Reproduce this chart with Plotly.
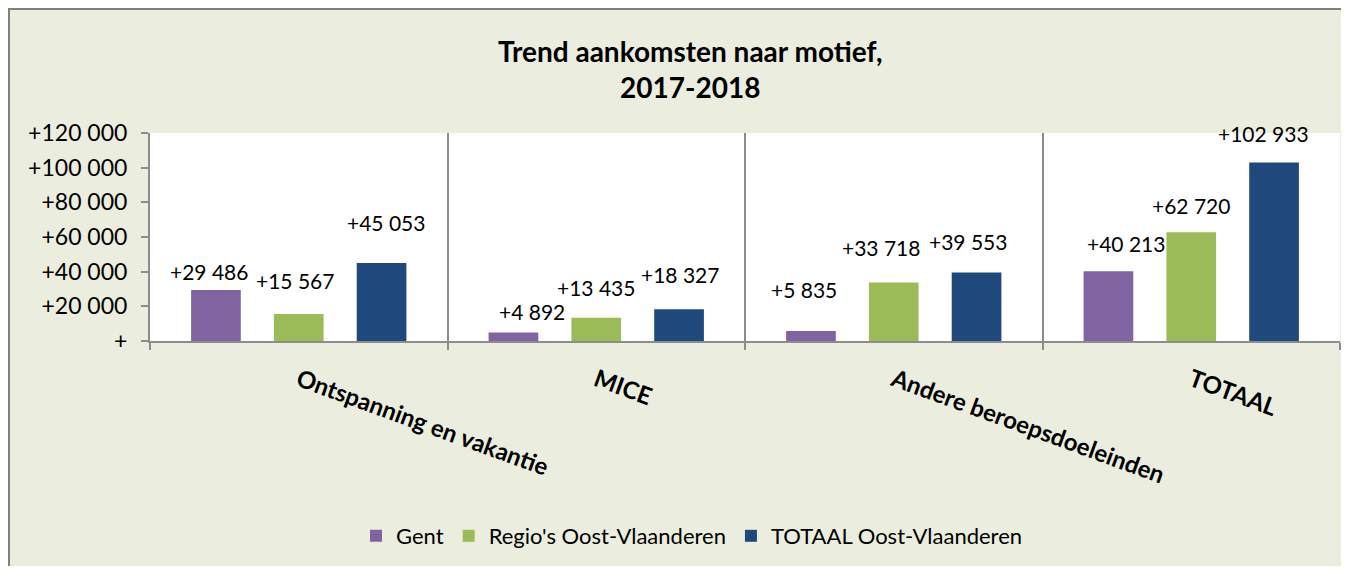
import plotly.graph_objects as go

categories = ["Ontspanning en vakantie", "MICE", "Andere beroepsdoeleinden", "TOTAAL"]
series_names = ["Gent", "Regio's Oost-Vlaanderen", "TOTAAL Oost-Vlaanderen"]
gent = [29486, 4892, 5835, 40213]
regio = [15567, 13435, 33718, 62720]
totaal = [45053, 18327, 39553, 102933]
y_tick_vals = [0, 20000, 40000, 60000, 80000, 100000, 120000]
y_tick_text = ["+", "+20 000", "+40 000", "+60 000", "+80 000", "+100 000", "+120 000"]

# styling
colors = ["#8064A2", "#9BBB59", "#1F497D"]
label_dx = [[-7, 19, -7, 18], [-4, 0, -13, 0], [4, 1, -9, -11]]
label_dy = [[18, 21, 41, 28], [34, 30, 35, 27], [40, 35, 31, 29]]
FONT = "Lato"
BG = "#EBEEDE"
GRID = "#8C8C8C"

# page has an 8px body margin; figure coordinates = page coordinates - 8
W, H = 1341, 558
L, R, T, B = 142, 9, 125, 225
pw, ph = W - L - R, H - T - B

def px_x(x):
    return (x - L) / pw

def px_y(y):
    return (H - B - y) / ph

def fmt(v):
    return "+" + f"{v:,}".replace(",", " ")

bargap = 0.165
bargroupgap = 0.4
slot = (1 - bargap) / 3

xs = list(range(len(categories)))
all_vals = [gent, regio, totaal]

fig = go.Figure()
for i, (name, vals) in enumerate(zip(series_names, all_vals)):
    fig.add_trace(go.Bar(x=xs, y=vals, name=name, marker=dict(color=colors[i], line=dict(width=0))))

annotations = []
for i, vals in enumerate(all_vals):
    for j, v in enumerate(vals):
        annotations.append(dict(
            x=j + (i - 1) * slot, y=v, xref="x", yref="y",
            text=fmt(v), showarrow=False, xanchor="center", yanchor="middle",
            xshift=label_dx[i][j], yshift=label_dy[i][j],
            font=dict(family=FONT, size=21, color="#000000"),
        ))

annotations.append(dict(
    x=px_x(682), y=px_y(61), xref="paper", yref="paper",
    text="<b>Trend aankomsten naar motief,<br>2017-2018</b>", showarrow=False,
    xanchor="center", yanchor="middle",
    font=dict(family=FONT, size=28, color="#000000"),
))

# outer chart border (left and top edges visible)
shapes = [
    dict(type="line", xref="paper", yref="paper",
         x0=px_x(1), x1=px_x(1), y0=px_y(H + 20), y1=px_y(0),
         line=dict(color="#808080", width=2), layer="below"),
    dict(type="line", xref="paper", yref="paper",
         x0=px_x(0), x1=px_x(W + 20), y0=px_y(1), y1=px_y(1),
         line=dict(color="#808080", width=2), layer="below"),
]

fig.update_layout(
    width=W, height=H,
    margin=dict(l=L, r=R, t=T, b=B, autoexpand=False),
    paper_bgcolor=BG, plot_bgcolor="#FFFFFF",
    barmode="group", bargap=bargap, bargroupgap=bargroupgap,
    showlegend=True,
    legend=dict(
        orientation="h", x=px_x(684), y=px_y(528),
        xanchor="center", yanchor="middle",
        font=dict(family=FONT, size=22, color="#000000"),
        bgcolor="rgba(0,0,0,0)", traceorder="normal",
    ),
    annotations=annotations,
    shapes=shapes,
    font=dict(family=FONT, color="#000000"),
)

fig.update_xaxes(
    range=[-0.5, 3.5], tickmode="array", tickvals=xs, ticktext=categories,
    tickangle=20, ticks="", showgrid=False, zeroline=False,
    showline=True, linecolor=GRID, linewidth=2, ticklabelstandoff=14,
    tickfont=dict(family=FONT, size=24, color="#000000", weight="bold"),
    minor=dict(tickmode="array", tickvals=[-0.5, 0.5, 1.5, 2.5, 3.5], ticks="outside",
               ticklen=7, tickcolor=GRID, tickwidth=2, showgrid=True, gridcolor=GRID, gridwidth=2),
)
fig.update_yaxes(
    range=[0, 120000], tickmode="array", tickvals=y_tick_vals, ticktext=y_tick_text,
    ticks="outside", ticklen=7, tickcolor=GRID, tickwidth=2,
    showline=True, linecolor=GRID, linewidth=2, showgrid=False, zeroline=False,
    ticklabelstandoff=9,
    tickfont=dict(family=FONT, size=23, color="#000000"),
)

fig.write_html("out.html")
